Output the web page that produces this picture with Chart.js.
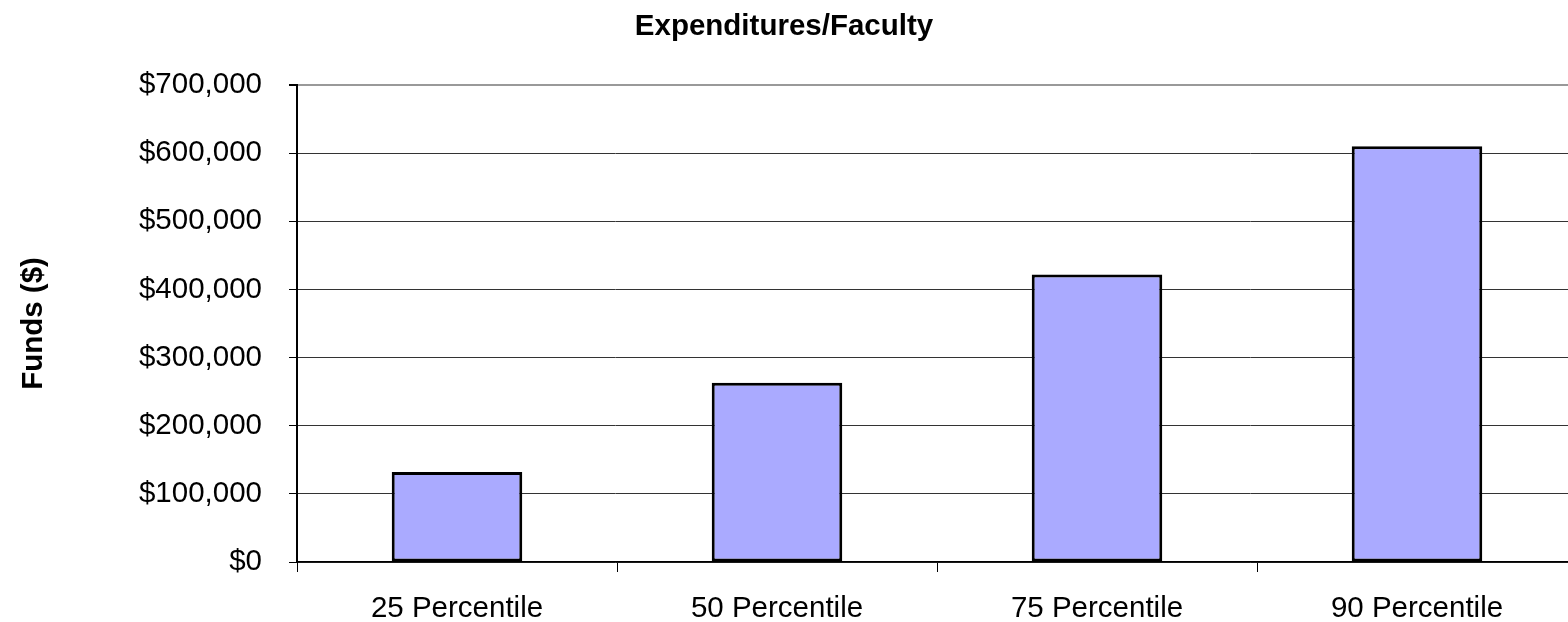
<!DOCTYPE html>
<html>
<head>
<meta charset="utf-8">
<style>
  html, body { margin: 0; padding: 0; background: #fff; }
  #wrap { width: 1568px; height: 622px; }
</style>
<script src="https://cdn.jsdelivr.net/npm/chart.js@4/dist/chart.umd.min.js"></script>
</head>
<body>
<div id="wrap"><canvas id="c" width="1568" height="622"></canvas></div>
<script>
const chartTitle = "Expenditures/Faculty";
const yAxisTitle = "Funds ($)";
const categories = ["25 Percentile", "50 Percentile", "75 Percentile", "90 Percentile"];
const fundsValues = [132000, 263000, 422000, 610000];
const yMin = 0;
const yMax = 700000;
const yStep = 100000;

const FONT = "'Liberation Sans', Arial, sans-serif";

// The original plot area runs slightly past the right edge of the picture;
// extend the category axis span beyond the canvas edge (it gets clipped).
const extendXAxis = {
  id: 'extendXAxis',
  afterLayout(chart) {
    const x = chart.scales.x;
    x.right = x.right + 9;
    x.width = x.right - x.left;
    x.configure();
  }
};

new Chart(document.getElementById('c'), {
  type: 'bar',
  data: {
    labels: categories,
    datasets: [{
      data: fundsValues,
      backgroundColor: '#AAAAFF',
      borderColor: '#000000',
      borderWidth: 3,
      borderSkipped: false,
      categoryPercentage: 1,
      barPercentage: 0.408
    }]
  },
  plugins: [extendXAxis],
  options: {
    responsive: false,
    animation: false,
    devicePixelRatio: 1,
    layout: { padding: { left: 0, right: 0, top: 0, bottom: 0 } },
    plugins: {
      legend: { display: false },
      tooltip: { enabled: false },
      title: {
        display: true,
        text: chartTitle,
        color: '#000',
        font: { family: FONT, size: 29.5, weight: 'bold' },
        padding: { top: 9, bottom: 40.6 }
      }
    },
    scales: {
      x: {
        offset: true,
        afterFit: (s) => { s.height = 60; },
        grid: {
          display: true,
          offset: true,
          drawOnChartArea: false,
          drawTicks: true,
          tickLength: 10,
          tickColor: '#000',
          color: '#000'
        },
        border: { display: true, color: '#000', width: 1.5 },
        ticks: {
          color: '#000',
          font: { family: FONT, size: 29.5 },
          padding: 19,
          maxRotation: 0,
          autoSkip: false
        }
      },
      y: {
        min: yMin,
        max: yMax,
        afterFit: (s) => { s.width = 297; },
        grid: {
          color: (ctx) => (ctx.tick && ctx.tick.value === yMax) ? '#999999' : '#333333',
          lineWidth: (ctx) => (ctx.tick && ctx.tick.value === yMax) ? 2 : 1,
          tickLength: 8,
          tickColor: '#000'
        },
        border: { display: true, color: '#000', width: 2 },
        ticks: {
          stepSize: yStep,
          color: '#000',
          font: { family: FONT, size: 29.5 },
          padding: 27,
          callback: (v) => '$' + Number(v).toLocaleString('en-US')
        },
        title: {
          display: true,
          text: yAxisTitle,
          color: '#000',
          font: { family: FONT, size: 29.5, weight: 'bold' },
          padding: { top: 16, bottom: 0 }
        }
      }
    }
  }
});
</script>
</body>
</html>
